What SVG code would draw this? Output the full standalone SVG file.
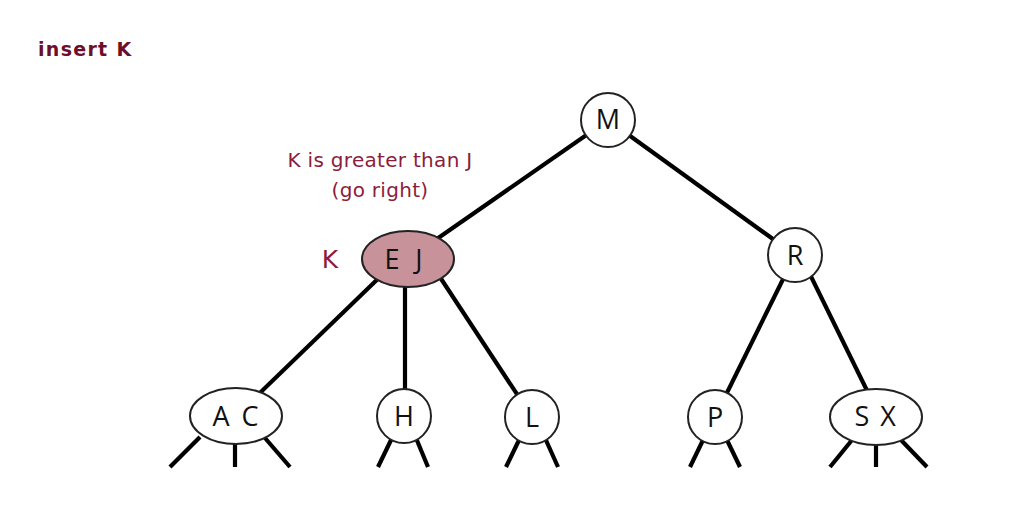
<svg xmlns="http://www.w3.org/2000/svg" width="1010" height="528" viewBox="0 0 1010 528">
<style>
.edge{stroke:#000;stroke-width:4.2;stroke-linecap:butt;fill:none}
.node{fill:#fff;stroke:#222;stroke-width:2}
.hl{fill:#c8929b;stroke:#222;stroke-width:2}
.lbl{font-family:"Open Sans","DejaVu Sans",sans-serif;font-size:27px;font-weight:500;fill:#111;text-anchor:middle}
.red{font-family:"DejaVu Sans","Open Sans",sans-serif;fill:#8b1c3c}
</style>
<rect width="1010" height="528" fill="#fff"/>
<text x="38" y="56" class="red" style="font-size:19px;font-weight:bold;fill:#6b0f2a;letter-spacing:1.3px">insert K</text>
<text x="380" y="167" class="red" style="font-size:20px;letter-spacing:0.3px" text-anchor="middle">K is greater than J</text>
<text x="380" y="197" class="red" style="font-size:20px;letter-spacing:0.3px" text-anchor="middle">(go right)</text>
<text x="330" y="268" class="red" style="font-size:25px" text-anchor="middle">K</text>
<g id="connectors">
<line class="edge" x1="608" y1="120" x2="408" y2="259"/>
<line class="edge" x1="608" y1="120" x2="795" y2="255"/>
<line class="edge" x1="385" y1="272" x2="236" y2="416"/>
<line class="edge" x1="405" y1="270" x2="405" y2="416"/>
<line class="edge" x1="430" y1="262" x2="532" y2="417"/>
<line class="edge" x1="795" y1="255" x2="715" y2="417"/>
<line class="edge" x1="798" y1="250" x2="880" y2="417"/>
<line class="edge" x1="200" y1="437" x2="170" y2="467"/>
<line class="edge" x1="235" y1="440" x2="235" y2="467"/>
<line class="edge" x1="265" y1="438" x2="290" y2="467"/>
<line class="edge" x1="392" y1="438" x2="378" y2="467"/>
<line class="edge" x1="416" y1="438" x2="428" y2="467"/>
<line class="edge" x1="520" y1="438" x2="506" y2="467"/>
<line class="edge" x1="545" y1="438" x2="558" y2="467"/>
<line class="edge" x1="704" y1="438" x2="690" y2="467"/>
<line class="edge" x1="726" y1="438" x2="740" y2="467"/>
<line class="edge" x1="852" y1="440" x2="830" y2="467"/>
<line class="edge" x1="876" y1="440" x2="876" y2="467"/>
<line class="edge" x1="901" y1="440" x2="927" y2="467"/>
</g>
<g id="node-M"><circle class="node" cx="608" cy="120" r="27"/><text class="lbl" x="608" y="129">M</text></g>
<g id="node-EJ"><ellipse class="hl" cx="408" cy="259" rx="46" ry="28"/><text class="lbl" x="392" y="269">E</text><text class="lbl" x="419" y="269">J</text></g>
<g id="node-R"><circle class="node" cx="795" cy="255" r="27"/><text class="lbl" x="795" y="265">R</text></g>
<g id="node-AC"><ellipse class="node" cx="236" cy="416" rx="46" ry="28"/><text class="lbl" x="221" y="426">A</text><text class="lbl" x="250" y="426">C</text></g>
<g id="node-H"><circle class="node" cx="404" cy="416" r="27"/><text class="lbl" x="404" y="426">H</text></g>
<g id="node-L"><circle class="node" cx="532" cy="417" r="27"/><text class="lbl" x="532" y="427">L</text></g>
<g id="node-P"><circle class="node" cx="715" cy="417" r="27"/><text class="lbl" x="715" y="427">P</text></g>
<g id="node-SX"><ellipse class="node" cx="876" cy="417" rx="46" ry="28"/><text class="lbl" x="862" y="426">S</text><text class="lbl" x="888" y="426">X</text></g>
</svg>
